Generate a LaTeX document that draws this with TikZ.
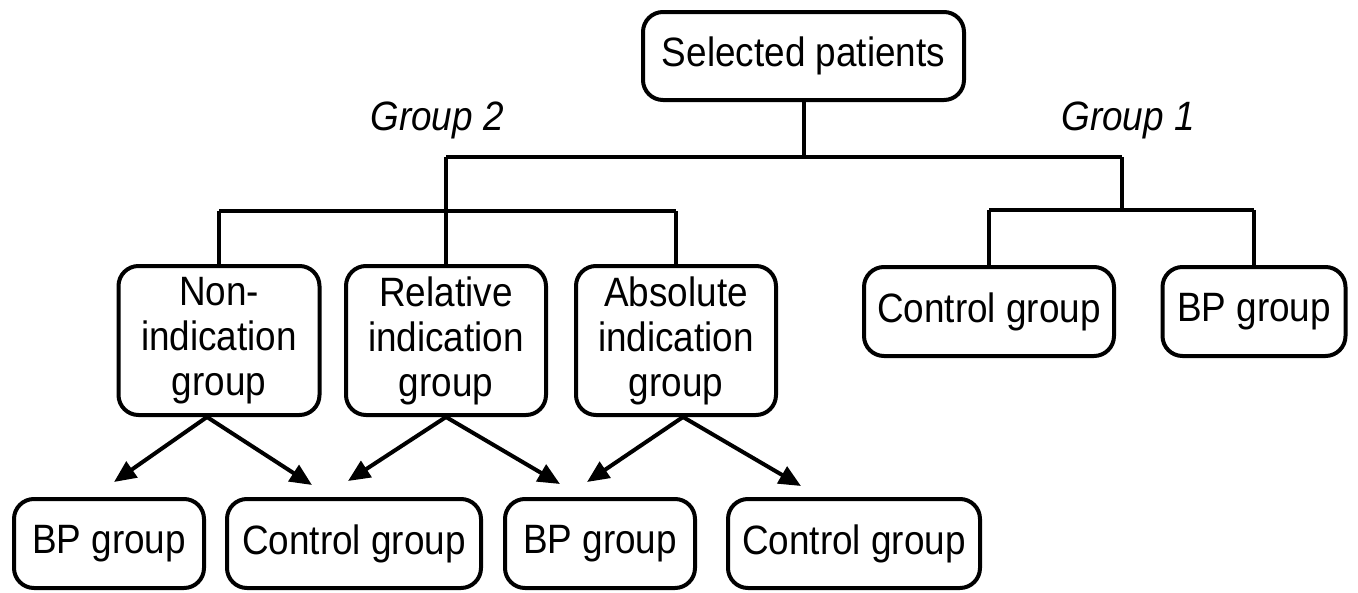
\documentclass[tikz,border=0pt]{standalone}
\usepackage{fontspec}
\setmainfont[FakeStretch=0.9]{Liberation Sans}
\usetikzlibrary{arrows.meta}
\begin{document}
\begin{tikzpicture}[x=1pt,y=-1pt,line width=4pt,
    box/.style={draw,rounded corners=20pt,align=center,inner sep=2pt,
      font=\fontsize{41}{45}\selectfont},
    lbl/.style={font=\fontsize{41}{45}\selectfont\itshape},
    arr/.style={-{Triangle[length=22pt,width=19pt]}}]
  \useasboundingbox (0,0) rectangle (1358,592);
  \node[box,minimum width=321pt,minimum height=88pt] (sel) at (803.5,56) {Selected patients};
  \node[lbl] (lg2) at (437,120) {Group 2};
  \node[lbl] (lg1) at (1128,120) {Group 1};
  \node[box,minimum width=201pt,minimum height=149pt] (non) at (219,340.5) {Non-\\indication\\group};
  \node[box,minimum width=200pt,minimum height=149pt] (rel) at (446,340.5) {Relative\\indication\\group};
  \node[box,minimum width=200pt,minimum height=149pt] (abs) at (676,340.5) {Absolute\\indication\\group};
  \node[box,minimum width=250pt,minimum height=89pt] (ctl1) at (989,311.5) {Control group};
  \node[box,minimum width=183pt,minimum height=89pt] (bp1) at (1254,311.5) {BP group};
  \node[box,minimum width=190pt,minimum height=89pt] (bp2) at (109,543.5) {BP group};
  \node[box,minimum width=254pt,minimum height=89pt] (ctl2) at (354,543.5) {Control group};
  \node[box,minimum width=190pt,minimum height=89pt] (bp3) at (600,543.5) {BP group};
  \node[box,minimum width=252pt,minimum height=89pt] (ctl3) at (854,543.5) {Control group};
  \coordinate (g2) at (446,157);
  \coordinate (g1) at (1122,157);
  \coordinate (b2) at (446,211);
  \coordinate (b1) at (1122,210);
  \draw (sel.south) -- (sel.south |- g1);
  \draw (g2) -- (g1);
  \draw (g2) -- (b2);
  \draw (non.north |- b2) -- (abs.north |- b2);
  \draw (non.north |- b2) -- (non.north);
  \draw (b2) -- (rel.north);
  \draw (abs.north |- b2) -- (abs.north);
  \draw (g1) -- (b1);
  \draw (ctl1.north |- b1) -- (bp1.north |- b1);
  \draw (ctl1.north |- b1) -- (ctl1.north);
  \draw (bp1.north |- b1) -- (bp1.north);
  \coordinate (t1) at (114,482);
  \coordinate (t2) at (312,485);
  \coordinate (t3) at (348,481);
  \coordinate (t4) at (560,484);
  \coordinate (t5) at (587,482);
  \coordinate (t6) at (801,486);
  \draw[arr] ([xshift=-12pt]non.south) -- (t1);
  \draw[arr] ([xshift=-12pt]non.south) -- (t2);
  \draw[arr] (rel.south) -- (t3);
  \draw[arr] (rel.south) -- (t4);
  \draw[arr] ([xshift=7pt]abs.south) -- (t5);
  \draw[arr] ([xshift=7pt]abs.south) -- (t6);
\end{tikzpicture}
\end{document}
